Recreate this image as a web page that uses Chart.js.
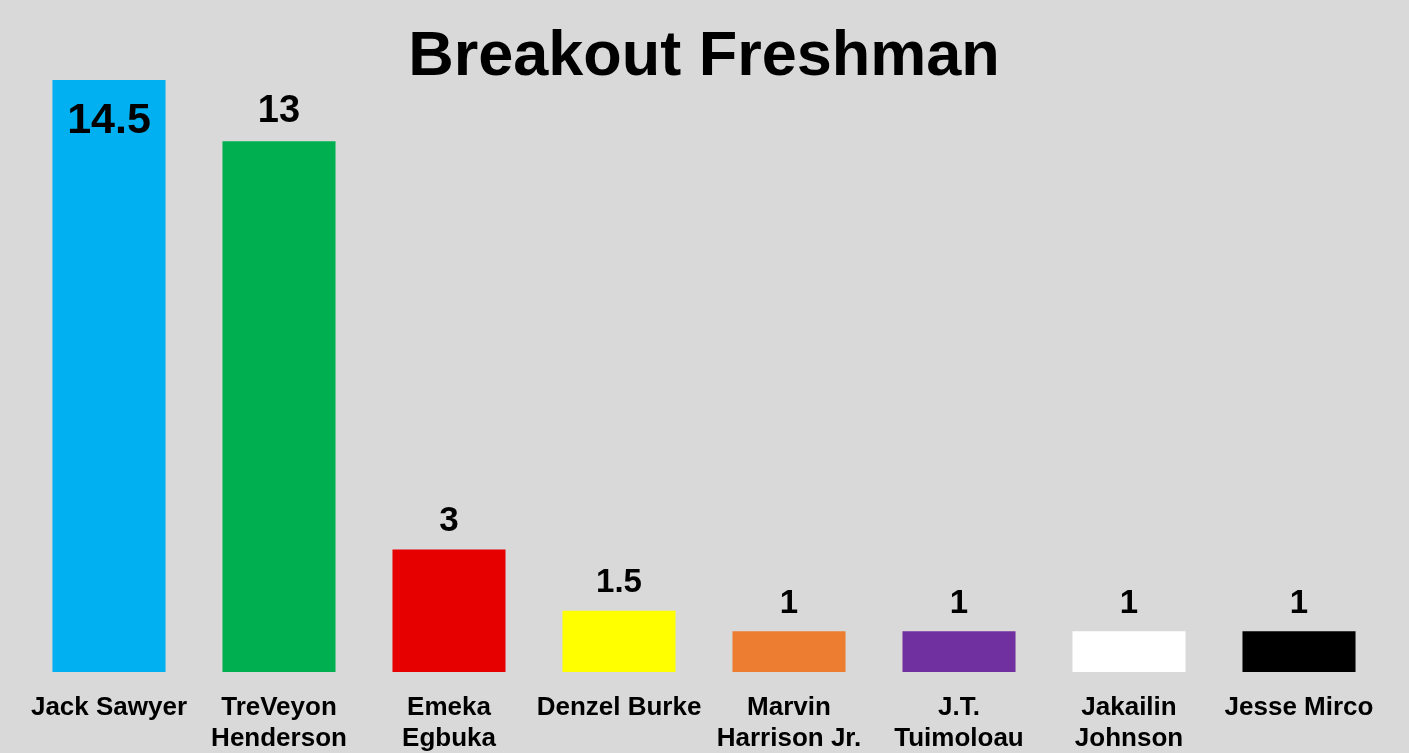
<!DOCTYPE html>
<html lang="en">
<head>
  <meta charset="UTF-8" />
  <title>Breakout Freshman</title>
  <script src="https://cdn.jsdelivr.net/npm/chart.js"></script>
  <style>
    html, body { margin: 0; padding: 0; background: #d9d9d9; }
    #wrap { width: 1409px; height: 753px; }
  </style>
</head>
<body>
  <div id="wrap"><canvas id="chartFreshman"></canvas></div>

  <script>
    const players = [
      ['Jack Sawyer'],
      ['TreVeyon', 'Henderson'],
      ['Emeka', 'Egbuka'],
      ['Denzel Burke'],
      ['Marvin', 'Harrison Jr.'],
      ['J.T.', 'Tuimoloau'],
      ['Jakailin', 'Johnson'],
      ['Jesse Mirco']
    ];
    const votes = [14.5, 13, 3, 1.5, 1, 1, 1, 1];
    const barColors = ['#00b0f0', '#00b050', '#e60000', '#ffff00', '#ed7d31', '#7030a0', '#ffffff', '#000000'];

    const FONT = '"Liberation Sans", Arial, sans-serif';

    // value labels: first one sits inside the bar, others above
    const valueLabels = {
      id: 'valueLabels',
      afterDatasetsDraw(chart) {
        const ctx = chart.ctx;
        const meta = chart.getDatasetMeta(0);
        ctx.save();
        ctx.fillStyle = '#000';
        ctx.textAlign = 'center';
        ctx.textBaseline = 'middle';
        meta.data.forEach((bar, i) => {
          const v = votes[i];
          if (i === 0) {
            ctx.font = 'bold 43px ' + FONT;
            ctx.fillText(String(v), bar.x, bar.y + 41);
          } else {
            const size = i === 1 ? 38 : (i === 2 ? 35 : 33);
            ctx.font = 'bold ' + size + 'px ' + FONT;
            ctx.fillText(String(v), bar.x, bar.y - (size * 0.5 + 11));
          }
        });
        ctx.restore();
      }
    };

    new Chart(document.getElementById('chartFreshman'), {
      type: 'bar',
      data: {
        labels: players,
        datasets: [{
          data: votes,
          backgroundColor: barColors,
          borderWidth: 0,
          categoryPercentage: 1,
          barPercentage: 0.665
        }]
      },
      options: {
        responsive: true,
        maintainAspectRatio: false,
        animation: false,
        layout: { padding: { left: 24, right: 25, top: 0, bottom: 0 } },
        plugins: {
          legend: { display: false },
          tooltip: { enabled: false },
          title: {
            display: true,
            text: 'Breakout Freshman',
            color: '#000',
            font: { family: FONT, size: 63, weight: 'bold', lineHeight: 1 },
            padding: { top: 26, bottom: -9 }
          }
        },
        scales: {
          x: {
            grid: { display: false, drawTicks: false },
            border: { display: false },
            afterFit(scale) { scale.height = 81; },
            ticks: {
              color: '#000',
              padding: 20,
              maxRotation: 0,
              autoSkip: false,
              font: { family: FONT, size: 26, weight: 'bold', lineHeight: 1.2 }
            }
          },
          y: {
            display: false,
            min: 0,
            max: 14.5
          }
        }
      },
      plugins: [valueLabels]
    });
  </script>
</body>
</html>
